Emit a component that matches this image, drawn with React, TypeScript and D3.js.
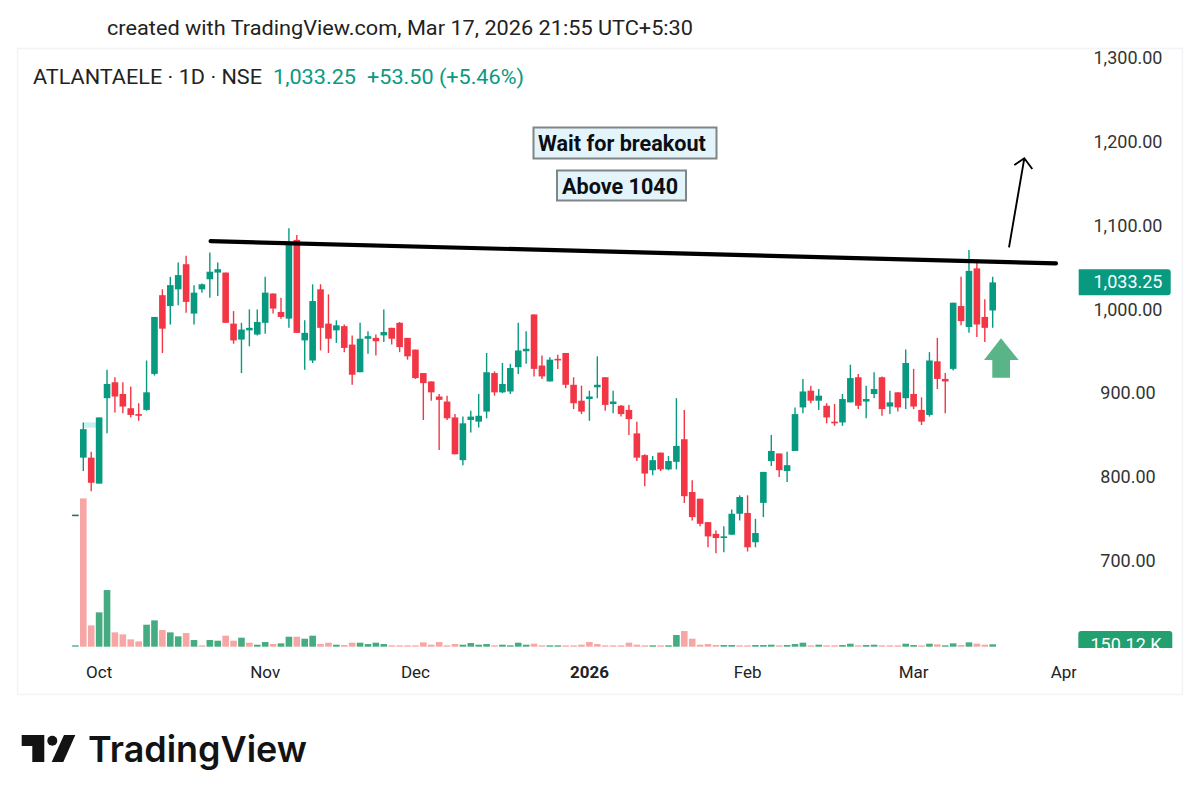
import * as d3 from 'd3';
import React from 'react';

const opens = [
  756,
  824, 824, 793, 895, 914, 900, 883, 876, 881, 924,
  1018, 1005, 1025, 1055, 996, 1025, 1037, 1045, 1045, 984,
  965, 976, 971, 985, 1020, 998, 990, 1084, 964, 940,
  1025, 984, 976, 981, 959, 926, 966, 967, 970, 979,
  985, 967, 953, 925, 915, 897, 891, 872, 821, 869,
  867, 879, 925, 902, 903, 932, 951, 995, 934, 915,
  942, 949, 911, 892, 894, 908, 920, 888, 886, 881,
  853, 827, 809, 830, 810, 819, 846, 783, 775, 747,
  733, 729, 732, 757, 758, 723, 770, 820, 829, 808,
  832, 884, 904, 892, 886, 867, 866, 890, 920, 891,
  900, 920, 885, 902, 895, 900, 881, 875, 939, 918,
  930, 1005, 980, 1050, 992, 999.75,
];
const highs = [
  756,
  866, 831, 872, 929, 920, 914, 909, 889, 940, 992,
  1025, 1040, 1057, 1065, 1030, 1032, 1069, 1057, 1045, 999,
  985, 1001, 1001, 1040, 1020, 1015, 1098, 1090, 988, 1031,
  1031, 1019, 988, 983, 970, 985, 975, 971, 1001, 979,
  986, 967, 953, 925, 915, 900, 898, 876, 873, 880,
  900, 949, 927, 937, 936, 985, 975, 995, 946, 944,
  947, 949, 920, 910, 904, 945, 920, 904, 887, 887,
  867, 828, 826, 830, 826, 895, 881, 797, 775, 747,
  737, 742, 762, 779, 779, 751, 807, 851, 829, 831,
  884, 918, 910, 906, 889, 888, 900, 935, 924, 910,
  926, 921, 904, 902, 953, 930, 896, 950, 967, 925,
  1009, 1040, 1072, 1060, 1013, 1040,
];
const lows = [
  756,
  808, 784, 793, 853, 878, 877, 872, 868, 880, 922,
  949, 983, 1006, 997, 983, 1021, 1015, 1017, 985, 960,
  925, 957, 970, 972, 996, 990, 979, 973, 929, 937,
  952, 949, 961, 950, 911, 926, 948, 946, 962, 959,
  950, 941, 918, 869, 892, 833, 869, 828, 815, 854,
  860, 871, 898, 901, 900, 924, 936, 921, 918, 915,
  930, 907, 882, 876, 868, 895, 880, 877, 873, 851,
  820, 790, 803, 808, 809, 810, 770, 749, 742, 717,
  710, 711, 732, 749, 712, 717, 753, 814, 801, 795,
  832, 877, 889, 881, 865, 862, 862, 890, 882, 871,
  895, 874, 876, 879, 882, 882, 863, 873, 906, 877,
  928, 982, 973, 968, 962, 979,
];
const closes = [
  756,
  858, 794, 872, 912, 897, 885, 875, 874, 902, 992,
  978, 1030, 1042, 1010, 1021, 1031, 1046, 1049, 985, 964,
  977, 979, 986, 1021, 1002, 992, 1080, 973, 973, 1011,
  979, 966, 982, 955, 923, 966, 969, 963, 974, 966,
  956, 945, 919, 913, 902, 893, 871, 828, 865, 873,
  874, 926, 902, 912, 931, 952, 954, 930, 921, 941,
  941, 911, 889, 879, 897, 911, 887, 891, 876, 870,
  824, 805, 821, 810, 820, 838, 778, 753, 745, 730,
  728, 730, 757, 777, 717, 734, 807, 832, 809, 815,
  876, 903, 892, 898, 872, 865, 894, 919, 886, 894,
  906, 882, 890, 884, 937, 885, 867, 940, 918, 915,
  1009, 987, 1047, 983, 979, 1033.25,
];
// volume in thousands
const volumes = [
  84,
  9345, 1344, 2163, 3570, 903, 777, 462, 336, 1386, 1659,
  1050, 903, 651, 861, 420, 84, 420, 378, 693, 378,
  567, 252, 126, 294, 168, 210, 630, 630, 504, 693,
  168, 252, 126, 105, 252, 252, 168, 252, 168, 84,
  84, 84, 84, 273, 126, 294, 84, 168, 126, 231,
  126, 168, 84, 126, 84, 252, 126, 189, 84, 84,
  84, 84, 84, 126, 294, 168, 84, 84, 84, 252,
  126, 84, 84, 84, 84, 735, 987, 504, 126, 168,
  105, 105, 105, 84, 84, 105, 105, 126, 84, 105,
  168, 252, 84, 126, 84, 84, 105, 189, 84, 105,
  126, 84, 84, 84, 189, 105, 84, 189, 147, 84,
  210, 105, 273, 189, 126, 150.12,
];
const volumeSides = (
  'G' +
  'RRGGRRRRGG' + 'RGGRGRGGRR' + 'GRGGRGGRGG' + 'RRGRRGGGGR' +
  'RRRRRRRRGG' + 'GGRGGGGRRG' + 'GRRRRRRRRR' + 'RRGRGGRRRR' +
  'RGGRRGGGRG' + 'GGRGRRGGRG' + 'GRRRGGRGRG' + 'GRGRRG'
).split('');

const priceTicks = [1300, 1200, 1100, 1000, 900, 800, 700];
const monthLabels = ['Oct', 'Nov', 'Dec', '2026', 'Feb', 'Mar', 'Apr'];
const monthBars = [3, 24, 43, 65, 85, 106, 125];

// annotations, as [bar, price]
const trendLine = [[17.1, 1082.5], [124, 1056]];
const lastPrice = 1033.25;

const GREEN = '#089981';
const RED = '#f23645';
const FONT = 'Roboto, sans-serif';

const x = d3.scaleLinear().domain([0, 116]).range([75.4, 992.7]);
const y = d3.scaleLinear().domain([700, 1300]).range([561.5, 59]);
const yVol = d3.scaleLinear().domain([0, 9345]).range([646.7, 498.4]);
const fmt = d3.format(',.2f');

const bodyW = 6.6;

export default function App() {
  return (
    <svg
      width={1200}
      height={804}
      viewBox="0 0 1200 804"
      style={{position: 'absolute', left: 0, top: 0, background: '#fff'}}
      fontFamily={FONT}
    >
      <defs>
        <clipPath id="volTag"><rect x={1070} y={620} width={110} height={28}/></clipPath>
        <clipPath id="timeAxis"><rect x={18} y={650} width={1058.5} height={44}/></clipPath>
      </defs>
      <rect width={1200} height={804} fill="#fff"/>
      <text x={107} y={35} fontSize={20} fill="#222" textLength={586} lengthAdjust="spacingAndGlyphs">
        created with TradingView.com, Mar 17, 2026 21:55 UTC+5:30
      </text>
      <rect x={17.5} y={48.5} width={1165} height={646} fill="none" stroke="#f2f3f7" strokeWidth={1.5}/>

      <text x={33} y={84} fontSize={20} fill="#222" textLength={229} lengthAdjust="spacingAndGlyphs">ATLANTAELE · 1D · NSE</text>
      <text x={273} y={84} fontSize={20} fill={GREEN} textLength={83} lengthAdjust="spacingAndGlyphs">1,033.25</text>
      <text x={367} y={84} fontSize={20} fill={GREEN} textLength={157} lengthAdjust="spacingAndGlyphs">+53.50 (+5.46%)</text>

      {volumes.map((v, i) => (
        <rect
          key={'v' + i}
          x={x(i) - bodyW / 2}
          y={yVol(v)}
          width={bodyW}
          height={yVol(0) - yVol(v)}
          fill={volumeSides[i] === 'G' ? '#45ab80' : '#f7a6a6'}
        />
      ))}

      <rect x={84} y={422.3} width={12} height={5.4} fill="#c9f0f0"/>

      {closes.map((c, i) => {
        const o = opens[i];
        const color = i === 0 ? '#2b6f60' : c >= o ? GREEN : RED;
        const top = y(Math.max(o, c));
        const h = Math.max(1.6, Math.abs(y(o) - y(c)));
        return (
          <g key={'c' + i}>
            <line x1={x(i)} x2={x(i)} y1={y(highs[i])} y2={y(lows[i])} stroke={color} strokeWidth={1.4}/>
            <rect x={x(i) - bodyW / 2} y={top} width={bodyW} height={h} fill={color}/>
          </g>
        );
      })}

      <line
        x1={x(trendLine[0][0])}
        y1={y(trendLine[0][1])}
        x2={x(trendLine[1][0])}
        y2={y(trendLine[1][1])}
        stroke="#000"
        strokeWidth={4.2}
        strokeLinecap="round"
      />

      <path d="M1009 247.3L1024.3 158.3M1014.3 165L1024.3 158.3L1032.3 169" fill="none" stroke="#000" strokeWidth={1.9}/>
      <path d="M1001 338.3L1018.7 360H1010V377.7H992.3V360H984Z" fill="#59b588"/>

      <rect x={533.5} y={127.5} width={183} height={31} fill="#e3f5fb" stroke="#808588" strokeWidth={2}/>
      <text x={538} y={150.5} fontSize={21.6} fontWeight={700} fill="#0b0f14">Wait for breakout</text>
      <rect x={557} y={170.5} width={129} height={30} fill="#e3f5fb" stroke="#808588" strokeWidth={2}/>
      <text x={562} y={193.5} fontSize={21.6} fontWeight={700} fill="#0b0f14">Above 1040</text>

      {priceTicks.map(p => (
        <text key={p} x={1128} y={y(p)} dy="0.3em" textAnchor="middle" fontSize={18} fill="#333">{fmt(p)}</text>
      ))}

      <path d="M1078.7 269.3H1167.7a3 3 0 0 1 3 3V292.3a3 3 0 0 1 -3 3H1078.7Z" fill={GREEN}/>
      <text x={1128} y={282.3} dy="0.34em" textAnchor="middle" fontSize={18} fill="#fff">{fmt(lastPrice)}</text>

      <g clipPath="url(#volTag)">
        <rect x={1078.3} y={631} width={94} height={30} rx={3} fill="#22a06f"/>
        <text x={1126} y={651} textAnchor="middle" fontSize={18} fill="#fff">150.12 K</text>
      </g>

      <g clipPath="url(#timeAxis)">
        {monthLabels.map((m, i) => (
          <text
            key={m}
            x={x(monthBars[i])}
            y={678}
            textAnchor="middle"
            fontSize={17}
            fontWeight={m === '2026' ? 700 : 400}
            fill="#222"
          >
            {m}
          </text>
        ))}
      </g>

      <g fill="#131313">
        <path d="M21.7 735H44.3V762H32.3V746H21.7Z"/>
        <circle cx={52.3} cy={740.7} r={5}/>
        <path d="M64 735H75.3L63.3 762H51.7Z"/>
        <text x={88} y={762} fontFamily="Inter, sans-serif" fontWeight={600} fontSize={36} textLength={219} lengthAdjust="spacingAndGlyphs">TradingView</text>
      </g>
    </svg>
  );
}
